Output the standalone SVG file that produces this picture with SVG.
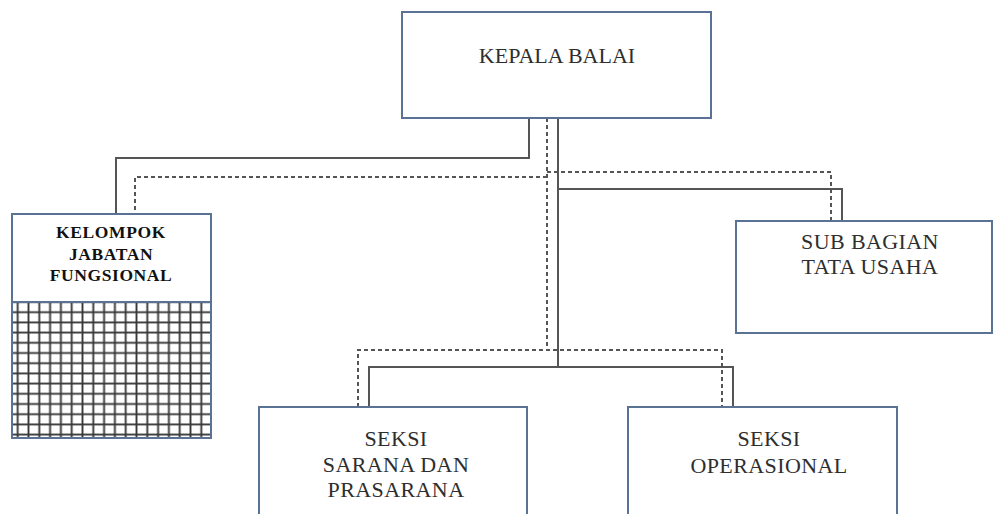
<svg xmlns="http://www.w3.org/2000/svg" width="993" height="514" viewBox="0 0 993 514">
<style>
.box{fill:#fff;stroke:#5a7394;stroke-width:2}
.ln{fill:none;stroke:#555;stroke-width:2}
.dash{fill:none;stroke:#555;stroke-width:2;stroke-dasharray:4 3}
.t{font-family:"Liberation Serif","Times New Roman",serif;font-size:22px;fill:#2e2e2e;text-anchor:middle;letter-spacing:0.4px}
.tb{font-family:"Liberation Serif","Times New Roman",serif;font-size:17.5px;font-weight:bold;fill:#111;text-anchor:middle;letter-spacing:0.6px}
</style>
<defs>
<pattern id="grid" patternUnits="userSpaceOnUse" x="12.3" y="307.1" width="10.8" height="10.2">
<path d="M5.4,0 V10.2 M0,5.1 H10.8" stroke="#222" stroke-width="1.9" stroke-opacity="0.9" fill="none"/>
</pattern>
</defs>
<g id="connectors">
<path class="ln" d="M529,118 V158 H116 V214"/>
<path class="ln" d="M558,118 V367"/>
<path class="ln" d="M558,189 H842 V221"/>
<path class="ln" d="M369,407 V367 H733 V407"/>
<path class="dash" d="M547,118 V350"/>
<path class="dash" d="M547,177 H135 V214"/>
<path class="dash" d="M547,172 H831 V221"/>
<path class="dash" d="M358,407 V350 H722 V407"/>
</g>
<g id="kepala-balai">
<rect class="box" x="402" y="12" width="309" height="106"/>
<text class="t" x="557" y="63" style="letter-spacing:0px">KEPALA BALAI</text>
</g>
<g id="kelompok-jabatan-fungsional">
<rect class="box" x="12" y="214" width="199" height="224"/>
<rect x="12" y="302" width="199" height="136" fill="url(#grid)"/>
<rect x="12" y="214" width="199" height="224" fill="none" stroke="#5a7394" stroke-width="2"/>
<line x1="12" y1="302" x2="211" y2="302" stroke="#5a7394" stroke-width="2"/>
<text class="tb" x="111" y="238">KELOMPOK</text>
<text class="tb" x="111" y="260">JABATAN</text>
<text class="tb" x="111" y="281">FUNGSIONAL</text>
</g>
<g id="sub-bagian-tata-usaha">
<rect class="box" x="736" y="221" width="256" height="112"/>
<text class="t" x="870" y="249">SUB BAGIAN</text>
<text class="t" x="870" y="274">TATA USAHA</text>
</g>
<g id="seksi-sarana-prasarana">
<rect class="box" x="259" y="407" width="268" height="120"/>
<text class="t" x="396" y="446">SEKSI</text>
<text class="t" x="396" y="472">SARANA DAN</text>
<text class="t" x="396" y="497">PRASARANA</text>
</g>
<g id="seksi-operasional">
<rect class="box" x="628" y="407" width="269" height="120"/>
<text class="t" x="769" y="446">SEKSI</text>
<text class="t" x="769" y="473">OPERASIONAL</text>
</g>
</svg>
